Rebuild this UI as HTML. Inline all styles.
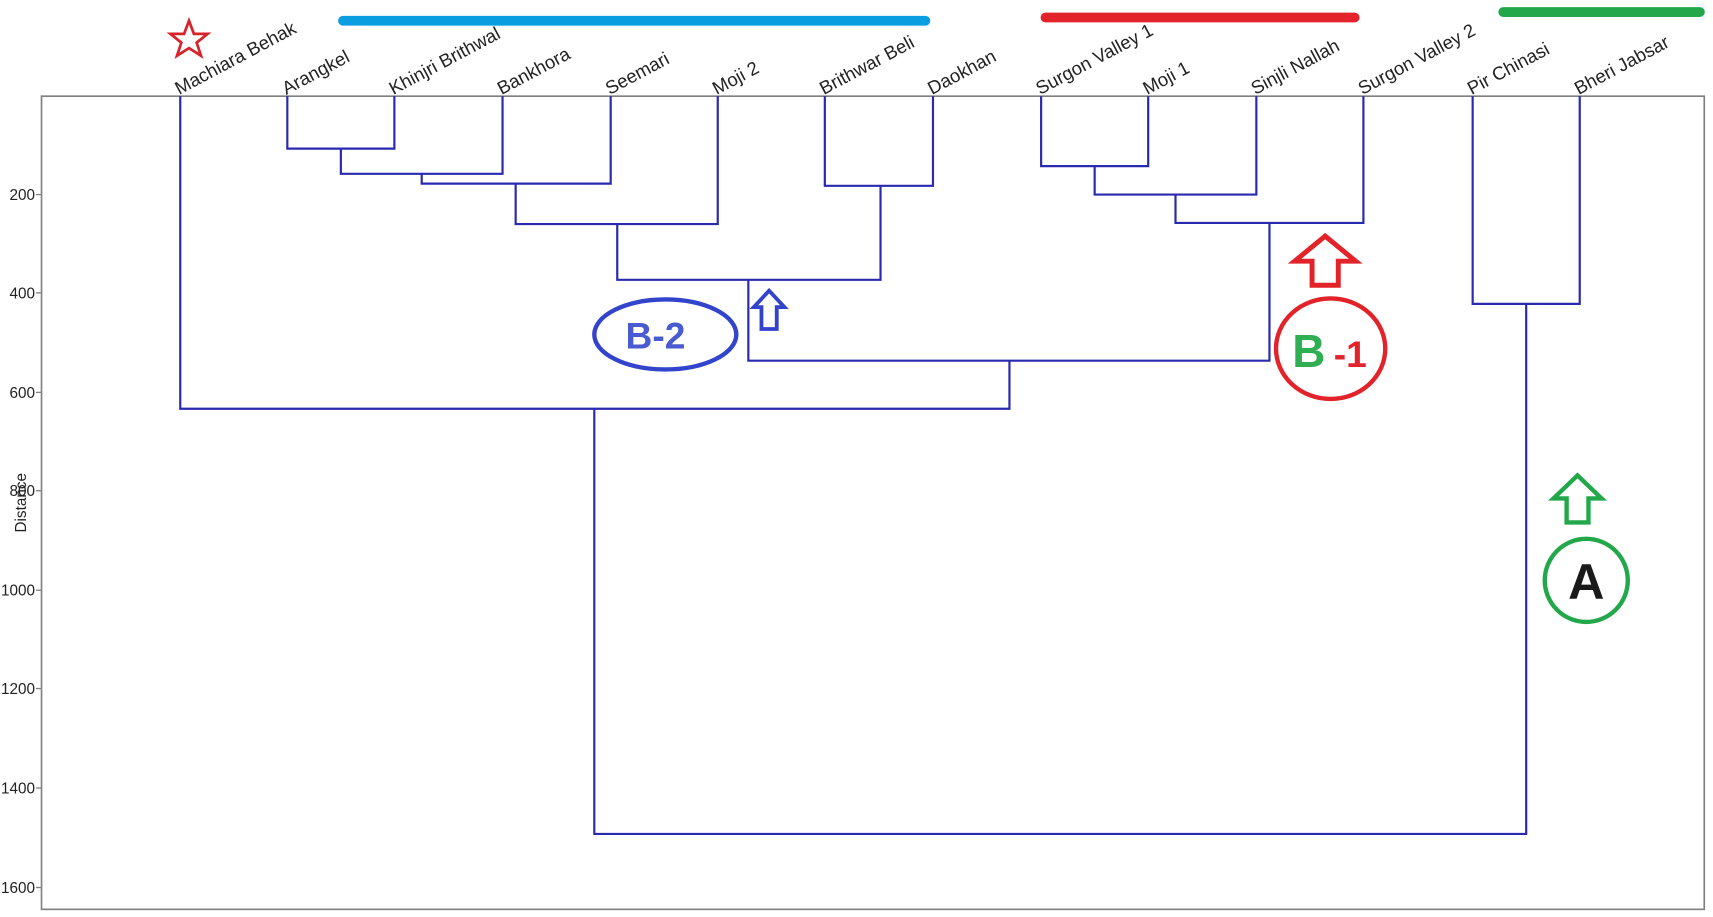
<!DOCTYPE html>
<html><head><meta charset="utf-8"><style>html,body{margin:0;padding:0;background:#fff}svg{display:block}</style></head>
<body>
<svg width="1713" height="917" viewBox="0 0 1568 839" preserveAspectRatio="none" xmlns="http://www.w3.org/2000/svg" font-family="Liberation Sans, sans-serif">
<rect x="0" y="0" width="1568" height="839" fill="#fff"/>
<line x1="314" y1="19" x2="847" y2="19" stroke="#0a9de0" stroke-width="9" stroke-linecap="round"/>
<line x1="957" y1="16" x2="1240" y2="16" stroke="#e3232a" stroke-width="9" stroke-linecap="round"/>
<line x1="1376" y1="11" x2="1556" y2="11" stroke="#22a84a" stroke-width="9" stroke-linecap="round"/>
<polygon points="173,19 177.5,31 190,31 180,39 184,51 173,44 162,51 166,39 156,31 168.5,31" fill="none" stroke="#d8232a" stroke-width="2.5"/>
<rect x="38" y="88" width="1522" height="744" fill="none" stroke="#808080" stroke-width="1.5"/>
<g stroke="#808080" stroke-width="1.2">
<line x1="33" y1="178" x2="38" y2="178"/><line x1="33" y1="268" x2="38" y2="268"/><line x1="33" y1="359" x2="38" y2="359"/>
<line x1="33" y1="449" x2="38" y2="449"/><line x1="33" y1="540" x2="38" y2="540"/><line x1="33" y1="630" x2="38" y2="630"/>
<line x1="33" y1="721" x2="38" y2="721"/><line x1="33" y1="812" x2="38" y2="812"/>
</g>
<g font-size="14" fill="#222" text-anchor="end">
<text x="32" y="183">200</text><text x="32" y="273">400</text><text x="32" y="364">600</text><text x="32" y="454">800</text>
<text x="32" y="545">1000</text><text x="32" y="635">1200</text><text x="32" y="726">1400</text><text x="32" y="817">1600</text>
</g>
<text x="24" y="460" font-size="14" fill="#222" text-anchor="middle" transform="rotate(-90 24 460)">Distance</text>
<g fill="none" stroke="#2a2ab0" stroke-width="2">
<path d="M263,88 V136 H361 V88"/>
<path d="M312,136 V159 H460 V88"/>
<path d="M386,159 V168 H559 V88"/>
<path d="M472,168 V205 H657 V88"/>
<path d="M755,88 V170 H854 V88"/>
<path d="M565,205 V256 H806 V170"/>
<path d="M953,88 V152 H1051 V88"/>
<path d="M1002,152 V178 H1150 V88"/>
<path d="M1076,178 V204 H1248 V88"/>
<path d="M685,256 V330 H1162 V204"/>
<path d="M165,88 V374 H924 V330"/>
<path d="M1348,88 V278 H1446 V88"/>
<path d="M544,374 V763 H1397 V278"/>
</g>
<g font-size="17" fill="#222">
<text transform="translate(164,87) rotate(-28)">Machiara Behak</text>
<text transform="translate(262,87) rotate(-28)">Arangkel</text>
<text transform="translate(360,87) rotate(-28)">Khinjri Brithwal</text>
<text transform="translate(459,87) rotate(-28)">Bankhora</text>
<text transform="translate(558,87) rotate(-28)">Seemari</text>
<text transform="translate(656,87) rotate(-28)">Moji 2</text>
<text transform="translate(754,87) rotate(-28)">Brithwar Beli</text>
<text transform="translate(853,87) rotate(-28)">Daokhan</text>
<text transform="translate(952,87) rotate(-28)">Surgon Valley 1</text>
<text transform="translate(1050,87) rotate(-28)">Moji 1</text>
<text transform="translate(1149,87) rotate(-28)">Sinjli Nallah</text>
<text transform="translate(1247,87) rotate(-28)">Surgon Valley 2</text>
<text transform="translate(1347,87) rotate(-28)">Pir Chinasi</text>
<text transform="translate(1445,87) rotate(-28)">Bheri Jabsar</text>
</g>
<ellipse cx="609" cy="306" rx="65" ry="32" fill="none" stroke="#3344cc" stroke-width="4"/>
<text x="600" y="319" font-size="34" font-weight="bold" fill="#4a5ad0" text-anchor="middle">B-2</text>
<polygon points="704,266 718,281 711,281 711,301 697,301 697,281 690,281" fill="none" stroke="#3344cc" stroke-width="3.5"/>
<polygon points="1213,216 1241,239 1225,239 1225,261 1201,261 1201,239 1185,239" fill="none" stroke="#e3232a" stroke-width="4.5"/>
<ellipse cx="1218" cy="319" rx="50" ry="46" fill="none" stroke="#e3232a" stroke-width="4"/>
<text x="1198" y="336" font-size="42" font-weight="bold" fill="#2fae52" text-anchor="middle">B</text>
<text x="1236" y="336" font-size="34" font-weight="bold" fill="#e3232a" text-anchor="middle">-1</text>
<polygon points="1444,435 1466,456 1454,456 1454,478 1434,478 1434,456 1422,456" fill="none" stroke="#22a84a" stroke-width="4"/>
<circle cx="1452" cy="531" r="38" fill="none" stroke="#22a84a" stroke-width="4"/>
<text x="1452" y="548" font-size="46" font-weight="bold" fill="#1a1a1a" text-anchor="middle">A</text>
</svg>
</body></html>
